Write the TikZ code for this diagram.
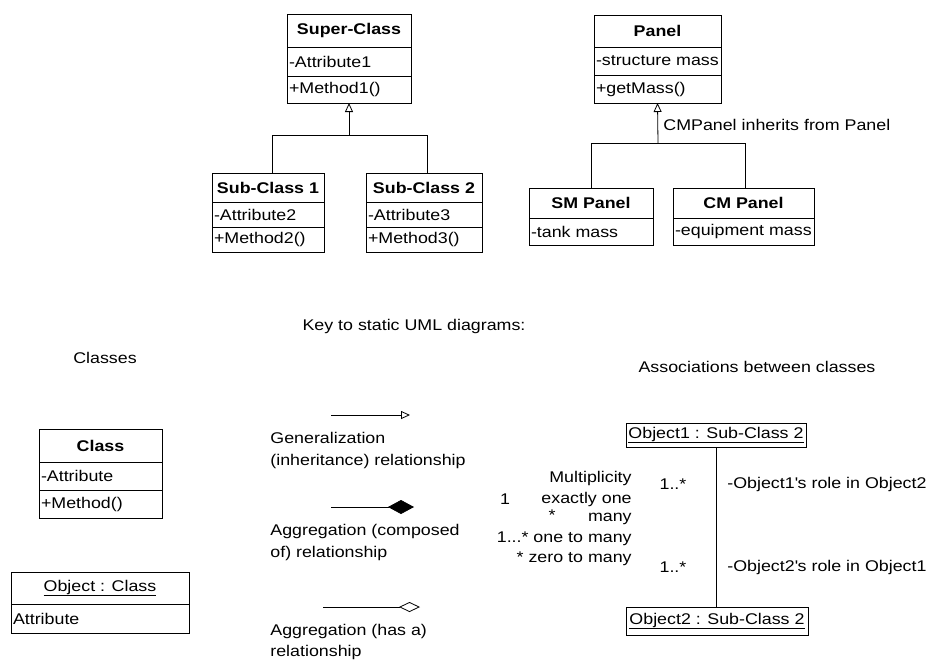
\documentclass[tikz,border=0pt]{standalone}
\usepackage{fontspec}
\setmainfont[FakeStretch=1.15]{Liberation Sans}
\usetikzlibrary{arrows.meta}
\newcommand\myfs{\fontsize{15.5}{21}\selectfont}
\newcommand\Lt[2]{\makebox[#1][l]{#2}}
\begin{document}
\begin{tikzpicture}[x=1pt,y=-1pt,line width=0.8pt,
  font=\myfs,
  box/.style={draw, anchor=north west, inner xsep=2pt, inner ysep=0pt, outer sep=0pt, font=\myfs},
  ttl/.style={box, font=\myfs\bfseries},
  obj/.style={box, font=\myfs},
  lrow/.style={box},
  txt/.style={inner sep=0pt, font=\myfs},
  gen/.style={-{Triangle[open,length=9pt,width=8pt]}},
  comp/.style={-{Diamond[length=26pt,width=14pt]}},
  aggr/.style={-{Diamond[open,length=21pt,width=10pt]}}
]
\useasboundingbox[fill=white] (0,0) rectangle (940,665);

% ---------- Super-Class hierarchy ----------
\node[ttl, minimum width=124pt, minimum height=33pt] (sc1) at (287,14) {Super-Class};
\node[lrow, minimum height=29pt] (sc2) at (287,47) {\Lt{120pt}{-Attribute1}};
\node[lrow, minimum height=27pt] (sc3) at (287,76) {\Lt{120pt}{+Method1()}};

\node[ttl, minimum width=112pt, minimum height=29pt] (s1a) at (212,173) {Sub-Class 1};
\node[lrow, minimum height=25pt] (s1b) at (212,202) {\Lt{108pt}{-Attribute2}};
\node[lrow, minimum height=25pt] (s1c) at (212,227) {\Lt{108pt}{+Method2()}};

\node[ttl, minimum width=116pt, minimum height=29pt] (s2a) at (366,173) {Sub-Class 2};
\node[lrow, minimum height=25pt] (s2b) at (366,202) {\Lt{112pt}{-Attribute3}};
\node[lrow, minimum height=25pt] (s2c) at (366,227) {\Lt{112pt}{+Method3()}};

\coordinate (j1) at (349,135);
\draw[gen] (j1) -- (sc3.south);
\draw ([xshift=4pt]s1a.north) |- (j1);
\draw ([xshift=3pt]s2a.north) |- (j1);

% ---------- Panel hierarchy ----------
\node[ttl, minimum width=127pt, minimum height=32pt] (p1) at (594,15) {Panel};
\node[lrow, minimum height=28pt] (p2) at (594,47) {\Lt{123pt}{-structure mass}};
\node[lrow, minimum height=28pt] (p3) at (594,75) {\Lt{123pt}{+getMass()}};

\node[ttl, minimum width=124pt, minimum height=30pt] (sm1) at (529,188) {SM Panel};
\node[lrow, minimum height=27pt] (sm2) at (529,218) {\Lt{120pt}{-tank mass}};

\node[ttl, minimum width=141pt, minimum height=30pt] (cm1) at (673,188) {CM Panel};
\node[lrow, minimum height=27pt] (cm2) at (673,218) {\Lt{137pt}{-equipment mass}};

\coordinate (j2) at (658,143);
\draw[gen] (j2) -- (p3.south);
\draw (sm1.north) |- (j2);
\draw ([xshift=2pt]cm1.north) |- (j2);
\node[txt, anchor=west] (inh) at (663,125) {CMPanel inherits from Panel};

% ---------- Key ----------
\node[txt] (key) at (414,326) {Key to static UML diagrams:};
\node[txt] (cls) at (105,358) {Classes};
\node[txt] (asc) at (757,367) {Associations between classes};

\node[ttl, minimum width=123pt, minimum height=33pt] (k1) at (39,429) {Class};
\node[lrow, minimum height=28pt] (k2) at (39,462) {\Lt{119pt}{-Attribute}};
\node[lrow, minimum height=28pt] (k3) at (39,490) {\Lt{119pt}{+Method()}};

\node[obj, minimum width=178pt, minimum height=32pt] (oc1) at (11,572) {\underline{Object : Class}};
\node[lrow, minimum height=29pt] (oc2) at (11,604) {\Lt{174pt}{Attribute}};

% relationship legend
\coordinate (g1) at (331,415); \coordinate (g2) at (410,415);
\draw[gen] (g1) -- (g2);
\node[txt, anchor=west, align=left, font=\fontsize{15.5}{22}\selectfont] (gl) at (270,450) {Generalization\\(inheritance) relationship};

\coordinate (c1) at (331,507); \coordinate (c2) at (414,507);
\draw[comp] (c1) -- (c2);
\node[txt, anchor=west, align=left, font=\fontsize{15.5}{22}\selectfont] (cl) at (270,542) {Aggregation (composed\\of) relationship};

\coordinate (a1) at (323,607); \coordinate (a2) at (420,607);
\draw[aggr] (a1) -- (a2);
\node[txt, anchor=west, align=left, font=\fontsize{15.5}{21}\selectfont] (al) at (270,642) {Aggregation (has a)\\relationship};

% associations
\node[obj, minimum width=180pt, minimum height=24pt] (o1) at (626,423) {\underline{Object1 : Sub-Class 2}};
\node[obj, minimum width=182pt, minimum height=28pt] (o2) at (626,607) {\underline{Object2 : Sub-Class 2}};
\draw (o1.south) -- (o1.south |- o2.north);

\node[txt, anchor=east] (m0) at (632,478) {Multiplicity};
\node[txt] (m1a) at (505,499) {1};
\node[txt, anchor=east] (m1) at (632,499) {exactly one};
\node[txt] (m2a) at (552,515) {*};
\node[txt, anchor=east] (m2) at (632,519) {many};
\node[txt, anchor=east] (m3) at (632,539) {1...* one to many};
\node[txt, anchor=east] (m4) at (632,559) {* zero to many};

\node[txt] (r1m) at (673,484) {1..*};
\node[txt, anchor=west] (r1) at (727,484) {-Object1\textquotesingle s role in Object2};
\node[txt] (r2m) at (673,567) {1..*};
\node[txt, anchor=west] (r2) at (727,567) {-Object2\textquotesingle s role in Object1};
\end{tikzpicture}
\end{document}
